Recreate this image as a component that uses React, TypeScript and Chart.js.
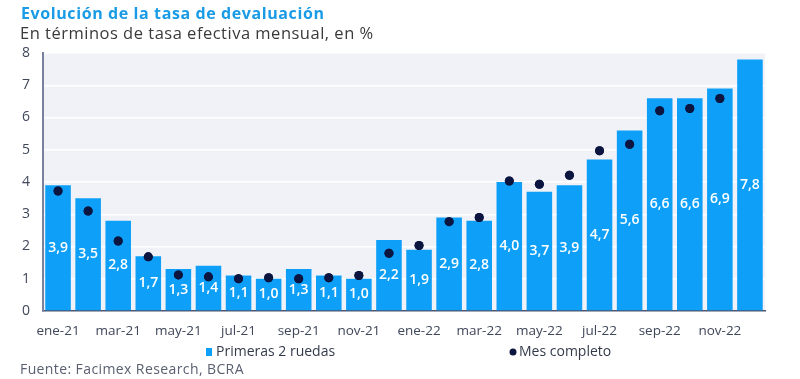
import React, { useEffect, useRef } from "react";
import { Chart, registerables } from "chart.js";

Chart.register(...registerables);

const categories = [
  "ene-21", "feb-21", "mar-21", "abr-21", "may-21", "jun-21", "jul-21", "ago-21", "sep-21", "oct-21", "nov-21", "dic-21",
  "ene-22", "feb-22", "mar-22", "abr-22", "may-22", "jun-22", "jul-22", "ago-22", "sep-22", "oct-22", "nov-22", "dic-22",
];
const primerasValues = [3.9, 3.5, 2.8, 1.7, 1.3, 1.4, 1.1, 1.0, 1.3, 1.1, 1.0, 2.2, 1.9, 2.9, 2.8, 4.0, 3.7, 3.9, 4.7, 5.6, 6.6, 6.6, 6.9, 7.8];
const mesCompletoValues: (number | null)[] = [3.72, 3.1, 2.17, 1.68, 1.12, 1.06, 1.0, 1.03, 1.0, 1.03, 1.1, 1.79, 2.03, 2.77, 2.9, 4.03, 3.93, 4.21, 4.97, 5.17, 6.21, 6.28, 6.59, null];
const yTicks = [0, 1, 2, 3, 4, 5, 6, 7, 8];

const TITLE = "Evolución de la tasa de devaluación";
const SUBTITLE = "En términos de tasa efectiva mensual, en %";
const SOURCE = "Fuente: Facimex Research, BCRA";
const FONT = "'Open Sans', sans-serif";

const BAR_COLOR = "#0EA0F8";
const DOT_COLOR = "#0B1540";

const plotBg = {
  id: "plotBg",
  beforeDraw(chart: any) {
    const { ctx, chartArea } = chart;
    ctx.save();
    ctx.fillStyle = "#F1F2F7";
    ctx.fillRect(chartArea.left, chartArea.top - 1, chartArea.right - chartArea.left, chartArea.bottom - chartArea.top + 1);
    ctx.restore();
  },
};

const barLabels = {
  id: "barLabels",
  afterDatasetsDraw(chart: any) {
    const { ctx } = chart;
    const meta = chart.getDatasetMeta(0);
    const data = chart.data.datasets[0].data;
    ctx.save();
    ctx.fillStyle = "#FFFFFF";
    ctx.font = `600 14px ${FONT}`;
    ctx.textAlign = "center";
    ctx.textBaseline = "middle";
    meta.data.forEach((el: any, i: number) => {
      const v = data[i];
      if (v == null) return;
      const y = (el.y + el.base) / 2;
      ctx.fillText(Number(v).toFixed(1).replace(".", ","), el.x, y);
    });
    ctx.restore();
    // redraw dots above labels
    const m1 = chart.getDatasetMeta(1);
    m1.controller.draw();
  },
};

const customLegend = {
  id: "customLegend",
  afterDraw(chart: any) {
    const { ctx } = chart;
    const ds = chart.data.datasets;
    const y = 352;
    ctx.save();
    ctx.font = `14px ${FONT}`;
    ctx.textBaseline = "middle";
    // item 1: bar series
    ctx.fillStyle = ds[0].backgroundColor;
    ctx.fillRect(206, y - 4, 6, 8);
    ctx.fillStyle = "#333B4A";
    ctx.textAlign = "left";
    ctx.fillText(ds[0].label, 216, y);
    // item 2: dot series
    ctx.fillStyle = ds[1].backgroundColor;
    ctx.beginPath();
    ctx.arc(513, y, 3.5, 0, Math.PI * 2);
    ctx.fill();
    ctx.fillStyle = "#333B4A";
    ctx.fillText(ds[1].label, 519, y);
    ctx.restore();
  },
};

export default function App() {
  const ref = useRef<HTMLCanvasElement | null>(null);
  useEffect(() => {
    if (!ref.current) return;
    const chart = new Chart(ref.current, {
      type: "bar",
      data: {
        labels: categories,
        datasets: [
          {
            type: "bar",
            label: "Primeras 2 ruedas",
            data: primerasValues,
            backgroundColor: BAR_COLOR,
            barPercentage: 0.85,
            categoryPercentage: 1,
            order: 2,
          },
          {
            type: "line",
            label: "Mes completo",
            data: mesCompletoValues,
            showLine: false,
            backgroundColor: DOT_COLOR,
            borderColor: DOT_COLOR,
            pointRadius: 4.5,
            pointHoverRadius: 4.5,
            pointBorderWidth: 0,
            order: 1,
          } as any,
        ],
      },
      options: {
        responsive: false,
        animation: false,
        devicePixelRatio: 1,
        layout: { padding: { left: 0, right: 35, top: 53, bottom: 38 } },
        plugins: {
          legend: { display: false },
          title: { display: false },
          tooltip: { enabled: false },
        },
        scales: {
          x: {
            grid: { display: false, drawTicks: false },
            border: { color: "#4A5673", width: 1.5 },
            ticks: {
              autoSkip: false,
              maxRotation: 0,
              padding: 12,
              color: "#3F475A",
              font: { family: FONT, size: 13.5 },
              callback: (_v: any, i: number) => (i % 2 === 0 ? categories[i] : ""),
            },
            afterFit: (s: any) => {
              s.height = 30;
            },
          },
          y: {
            min: 0,
            max: 8,
            afterBuildTicks: (s: any) => {
              s.ticks = yTicks.map((v) => ({ value: v }));
            },
            grid: { color: "#FFFFFF", lineWidth: 1.5, drawTicks: false },
            border: { color: "#7A819C", width: 2 },
            ticks: {
              padding: 13,
              color: "#3F475A",
              font: { family: FONT, size: 14 },
            },
            afterFit: (s: any) => {
              s.width = 43;
            },
          },
        },
      },
      plugins: [plotBg, barLabels, customLegend],
    });
    return () => chart.destroy();
  }, []);

  return (
    <div style={{ position: "absolute", left: 0, top: 0, width: 800, height: 379, background: "#fff", fontFamily: FONT }}>
      <canvas ref={ref} width={800} height={379} style={{ position: "absolute", left: 0, top: 0 }} />
      <div style={{ position: "absolute", left: 21, top: 2, fontSize: 16, fontWeight: 700, color: "#1A9BE6", whiteSpace: "nowrap", lineHeight: "22px", letterSpacing: "0.6px" }}>
        {TITLE}
      </div>
      <div style={{ position: "absolute", left: 20, top: 22, fontSize: 16.5, color: "#3A3A3A", whiteSpace: "nowrap", lineHeight: "22px", letterSpacing: "0.5px" }}>
        {SUBTITLE}
      </div>
      <div style={{ position: "absolute", left: 20, top: 359, fontSize: 14, color: "#5A6070", whiteSpace: "nowrap", lineHeight: "20px", letterSpacing: "0.4px" }}>
        {SOURCE}
      </div>
    </div>
  );
}
